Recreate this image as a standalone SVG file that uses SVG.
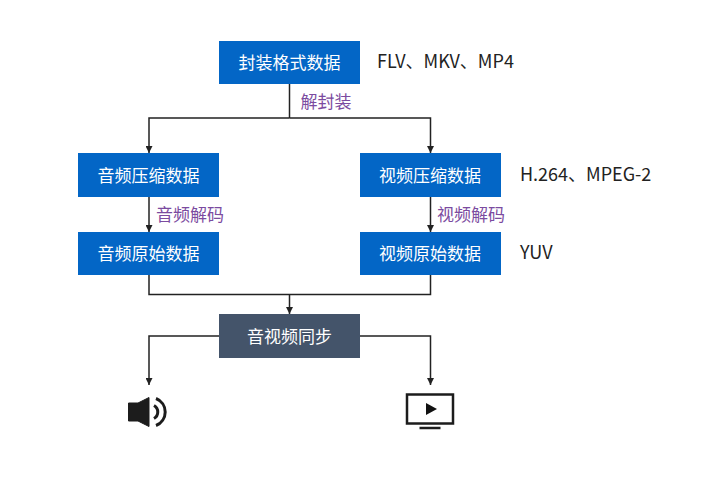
<svg xmlns="http://www.w3.org/2000/svg" width="720" height="487" viewBox="0 0 720 487">
  <style>
    .box { fill: #0366c6; }
    .sync { fill: #44546a; }
    .title { font: 17px "Noto Sans CJK SC", "Liberation Sans", sans-serif; fill: #fff; text-anchor: middle; }
    .step { font: 17px "Noto Sans CJK SC", "Liberation Sans", sans-serif; fill: #7b4ba0; }
    .note { font: 18px "Noto Sans CJK SC", "Liberation Sans", sans-serif; fill: #222; }
    .link { fill: none; stroke: #222; stroke-width: 1.5; marker-end: url(#tip); }
    .plain { fill: none; stroke: #222; stroke-width: 1.5; }
  </style>
  <defs>
    <marker id="tip" markerUnits="userSpaceOnUse" markerWidth="8" markerHeight="7" refX="7" refY="3.5" orient="auto">
      <path d="M0 0L7 3.5L0 7Z" fill="#222"/>
    </marker>
  </defs>
  <rect width="720" height="487" fill="#fff"/>

  <g id="connectors">
    <path class="plain" d="M289.5 84V118"/>
    <path class="link" d="M289.5 118H149V153"/>
    <path class="link" d="M289.5 118H430.500V153"/>
    <path class="link" d="M149 197V232"/>
    <path class="link" d="M430.500 197V232"/>
    <path class="plain" d="M149 275V294.500H430.500V275"/>
    <path class="link" d="M289.500 294.500V314"/>
    <path class="link" d="M219 336H149V385"/>
    <path class="link" d="M360 336H430.500V385"/>
  </g>

  <g id="container">
    <rect class="box" x="219" y="41" width="141" height="43"/>
    <text class="title" x="289.500" y="69">封装格式数据</text>
  </g>
  <text class="note" x="377" y="68">FLV、MKV、MP4</text>
  <text class="step" x="300.500" y="107.500">解封装</text>

  <g id="audio-compressed">
    <rect class="box" x="78" y="153" width="141" height="44"/>
    <text class="title" x="148.500" y="181.500">音频压缩数据</text>
  </g>
  <g id="video-compressed">
    <rect class="box" x="360" y="153" width="141" height="44"/>
    <text class="title" x="430" y="181.500">视频压缩数据</text>
  </g>
  <text class="note" x="520" y="181">H.264、MPEG-2</text>
  <text class="step" x="156" y="220.500">音频解码</text>
  <text class="step" x="437" y="220.500">视频解码</text>

  <g id="audio-raw">
    <rect class="box" x="78" y="232" width="141" height="43"/>
    <text class="title" x="148.500" y="260">音频原始数据</text>
  </g>
  <g id="video-raw">
    <rect class="box" x="360" y="232" width="141" height="43"/>
    <text class="title" x="430" y="260">视频原始数据</text>
  </g>
  <text class="note" x="520" y="259">YUV</text>

  <g id="sync">
    <rect class="sync" x="219" y="314" width="141" height="44"/>
    <text class="title" x="289.500" y="342.500">音视频同步</text>
  </g>

  <g id="speaker">
    <path d="M128.500 403H138L149 397.500V426.500L138 421H128.500Z" fill="#1c1c1c" stroke="#1c1c1c" stroke-width="1" stroke-linejoin="round"/>
    <path d="M154 405.500A7.500 7.500 0 0 1 154 418.500" fill="none" stroke="#1c1c1c" stroke-width="3"/>
    <path d="M156 398.500A14.500 14.500 0 0 1 156 425.500" fill="none" stroke="#1c1c1c" stroke-width="3"/>
  </g>
  <g id="screen">
    <rect x="407" y="394.500" width="46" height="29" fill="none" stroke="#1c1c1c" stroke-width="2.500"/>
    <path d="M426 403V415L437 409Z" fill="#111"/>
    <path d="M419.500 428H440.500" fill="none" stroke="#1c1c1c" stroke-width="2.500"/>
  </g>
</svg>
